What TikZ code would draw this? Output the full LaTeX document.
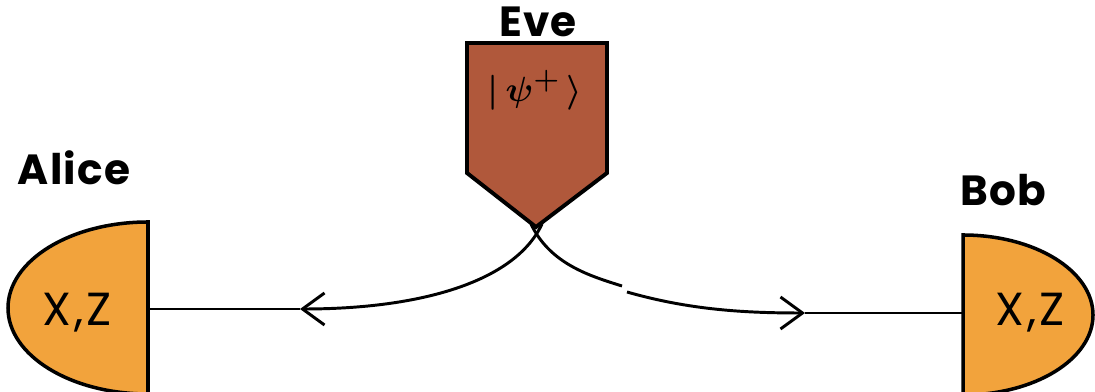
\documentclass[tikz,border=0pt]{standalone}
\usepackage{fontspec}
\setsansfont{Poppins}
\newfontfamily\partyfont{Poppins}[LetterSpace=3]
\newfontfamily\basisfont{Poppins}[LetterSpace=6]
\usetikzlibrary{arrows.meta}

\begin{document}
\begin{tikzpicture}[x=0.025cm,y=0.025cm]
\tikzset{
  partylabel/.style={font=\partyfont\bfseries\fontsize{30}{34}\selectfont,inner sep=0pt},
  basislabel/.style={font=\basisfont\fontsize{33}{36}\selectfont,inner sep=0pt},
  statelabel/.style={font=\boldmath\fontsize{32}{34}\selectfont,inner sep=0pt},
  sourcebox/.style={draw=black,line width=2.8pt,fill=evebrown,line join=miter},
  detector/.style={draw=black,line width=2.5pt,fill=detorange},
  fiber/.style={draw=black,line width=2.1pt,line cap=butt},
  photon/.style={fiber,-{Straight Barb[length=5.5mm,width=8mm,line width=2.1pt]}}
}
\definecolor{evebrown}{HTML}{B0583B}
\definecolor{detorange}{HTML}{F2A33C}
\useasboundingbox (0,0) rectangle (1095,392);
% coordinates
\coordinate (c_tipL) at (542,168);
\coordinate (c_tipR) at (531,168);
\coordinate (c_brk1) at (622,106);
\coordinate (c_brk2) at (627,100);
\coordinate (c_arrL) at (300,83);
\coordinate (c_arrR) at (805,79);
\coordinate (c_alice) at (148,83);
\coordinate (c_bob) at (963,79);
% fibers
\draw[photon] (c_tipL) .. controls (515,110) and (420,83) .. (c_arrL);
\draw[fiber] (c_arrL) -- (c_alice);
\draw[fiber] (c_tipR) .. controls (550,128) and (590,116) .. (c_brk1);
\draw[photon] (c_brk2) .. controls (690,82) and (745,79) .. (c_arrR);
\draw[fiber] (c_arrR) -- (c_bob);
% detectors
\draw[detector] (148,170) -- (148,-2) arc (270:90:140 and 86) -- cycle;
\draw[detector] (963,157) arc (90:-90:130 and 80) -- (963,157) -- cycle;
% source
\draw[sourcebox] (467,349) -- (467,219) -- (536,165) -- (607,219) -- (607,349) -- cycle;
% labels
\node[partylabel] (n_eve) at (538,370) {Eve};
\node[partylabel] (n_alice) at (74,224) {Alice};
\node[partylabel] (n_bob) at (1003,202) {Bob};
\node[basislabel] (n_xzA) at (77,79) {X,Z};
\node[basislabel] (n_xzB) at (1030,79) {X,Z};
\node[statelabel] (n_state) at (535,302) {$|\,\psi^{+}\,\rangle$};
\end{tikzpicture}
\end{document}
